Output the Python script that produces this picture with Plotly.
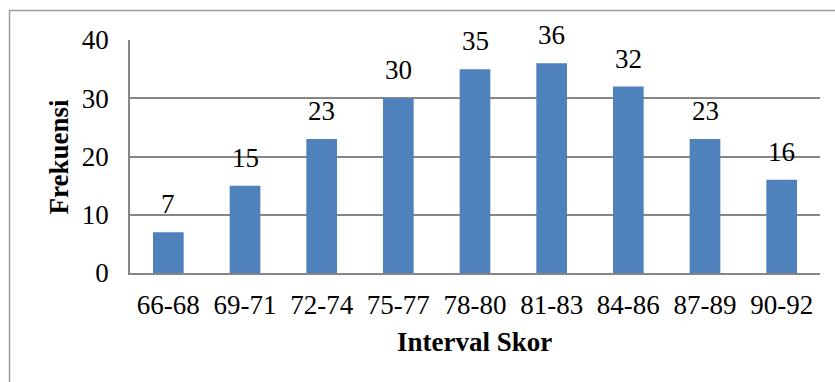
import plotly.graph_objects as go

categories = ["66-68", "69-71", "72-74", "75-77", "78-80", "81-83", "84-86", "87-89", "90-92"]
values = [7, 15, 23, 30, 35, 36, 32, 23, 16]
y_ticks = [0, 10, 20, 30, 40]

FONT = "Liberation Serif"
GRID = "#868686"
FS = 27

fig = go.Figure(go.Bar(x=categories, y=values, marker=dict(color="#4F81BD", line=dict(width=0)),
                       width=0.4))

for c, v in zip(categories, values):
    fig.add_annotation(x=c, y=v, text=str(v), showarrow=False, yanchor="bottom",
                       yshift=11, font=dict(family=FONT, size=FS, color="black"))

fig.add_annotation(xref="paper", yref="paper", x=-0.103, y=0.5, text="<b>Frekuensi</b>",
                   textangle=-90, showarrow=False, xanchor="center", yanchor="middle",
                   font=dict(family=FONT, size=FS, color="black"))
fig.add_annotation(xref="paper", yref="paper", x=0.4986, y=-0.294, text="<b>Interval Skor</b>",
                   showarrow=False, xanchor="center", yanchor="middle",
                   font=dict(family=FONT, size=FS, color="black"))

# outer chart-area border (cropped at right/bottom)
fig.add_shape(type="rect", xref="paper", yref="paper", x0=-0.1746, y0=-0.8, x1=1.1, y1=1.1266,
              line=dict(color="#9a9a9a", width=1.5), fillcolor="rgba(0,0,0,0)", layer="below")

fig.update_layout(
    width=835, height=382,
    margin=dict(l=130, r=15, t=40, b=109),
    plot_bgcolor="white", paper_bgcolor="white",
    showlegend=False,
    font=dict(family=FONT, size=FS, color="black"),
    xaxis=dict(showline=True, linecolor=GRID, linewidth=1.5, ticks="", showgrid=False,
               tickfont=dict(family=FONT, size=FS, color="black"), ticklabelstandoff=7),
    yaxis=dict(range=[0, 40], tickvals=y_ticks, showline=True, linecolor=GRID, linewidth=1.5,
               showgrid=True, gridcolor=GRID, gridwidth=1.5, zeroline=False, ticks="",
               tickfont=dict(family=FONT, size=FS, color="black"), ticklabelstandoff=14),
)

fig.write_html("out.html", config={"displayModeBar": False},
               post_script="document.body.style.margin='0px';")
